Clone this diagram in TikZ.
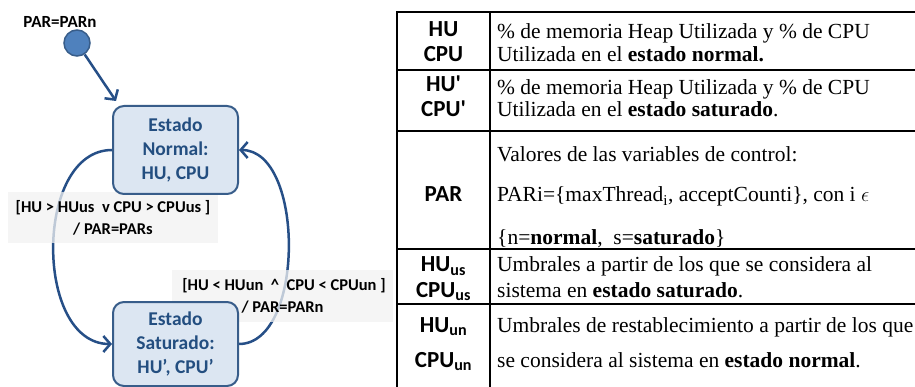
\documentclass[tikz,border=0pt]{standalone}
\usepackage{fontspec}
\setmainfont{Liberation Serif}
\newfontfamily\carlito{Carlito}
\usetikzlibrary{arrows.meta,calc}
\pgfdeclarelayer{arcs}
\pgfdeclarelayer{labels}
\pgfsetlayers{arcs,labels,main}
\definecolor{lineblue}{RGB}{38,79,135}
\definecolor{boxborder}{RGB}{56,93,138}
\definecolor{boxfill}{RGB}{220,230,242}
\definecolor{boxtext}{RGB}{35,78,128}
\definecolor{initfill}{RGB}{79,129,189}
\definecolor{labelgray}{RGB}{242,242,242}
\begin{document}
\begin{tikzpicture}[x=1pt,y=-1pt,
  statebox/.style={draw=boxborder, line width=2pt, fill=boxfill, rounded corners=11pt,
    minimum width=125pt, align=center, inner sep=0pt,
    font=\carlito\bfseries\fontsize{19.5}{24}\selectfont, text=boxtext},
  initdot/.style={circle, draw=boxborder, line width=1.5pt, fill=initfill, minimum size=26pt, inner sep=0pt},
  trans/.style={draw=lineblue, line width=2.5pt, -{Straight Barb[length=7pt,width=16pt,line width=2.5pt]}},
  guard/.style={fill=labelgray, fill opacity=0.75, text opacity=1, align=center, inner sep=0pt,
    font=\carlito\bfseries\fontsize{16.5}{22}\selectfont},
  symb/.style={font=\carlito\bfseries\fontsize{23}{26}\selectfont, anchor=base, inner sep=0pt},
  desc/.style={font=\fontsize{21.5}{25}\selectfont, anchor=base west, inner sep=0pt},
  rule/.style={line width=1.5pt, black}
]
\useasboundingbox (0,0) rectangle (915,387);

% left diagram
\node[font=\carlito\bfseries\fontsize{17}{20}\selectfont, inner sep=0pt] (parn) at (60,22) {PAR=PARn};
\node[initdot] (init) at (77,43) {};
\node[statebox, minimum height=88pt] (normal) at (175.5,150) {Estado\\Normal:\\HU, CPU};
\node[statebox, minimum height=84pt] (sat) at (175.5,344) {Estado\\Saturado:\\HU’, CPU’};

\draw[trans] (init) -- ($(normal.north west)+(4,-4)$);
\begin{pgfonlayer}{arcs}
\draw[trans] (normal.west) .. controls +(-78,0) and +(-78,0) .. (sat.west);
\draw[trans] (sat.east) .. controls +(66,0) and +(66,0) .. (normal.east);
\end{pgfonlayer}

\begin{pgfonlayer}{labels}
\node[guard, minimum width=210pt, minimum height=51pt] (g1) at (113,217.5)
  {[HU > HUus\ \ v CPU > CPUus ]\\/ PAR=PARs};
\node[guard, minimum width=221pt, minimum height=52pt] (g2) at (282.5,296)
  {\hspace*{3pt}[HU < HUun\ \ \textasciicircum\ \ CPU < CPUun ]\\/ PAR=PARn};
\end{pgfonlayer}

% table
\draw[rule] (397,12) -- (915,12);
\draw[rule] (397,70) -- (915,70);
\draw[rule] (397,131) -- (915,131);
\draw[rule] (397,249) -- (915,249);
\draw[rule] (397,304) -- (915,304);
\draw[rule] (397,11.25) -- (397,387);
\draw[rule] (490,11.25) -- (490,387);

\node[symb] (s1a) at (443.5,37) {HU};
\node[symb] (s1b) at (443.5,62) {CPU};
\node[symb] (s2a) at (443.5,92) {HU'};
\node[symb] (s2b) at (443.5,117) {CPU'};
\node[symb] (s3) at (443.5,202) {PAR};
\node[symb] (s4a) at (443.5,272) {HU\textsubscript{us}};
\node[symb] (s4b) at (443.5,297) {CPU\textsubscript{us}};
\node[symb] (s5a) at (443.5,332) {HU\textsubscript{un}};
\node[symb] (s5b) at (443.5,367) {CPU\textsubscript{un}};

\node[desc] (d1a) at (497,39) {\% de memoria Heap Utilizada y \% de CPU};
\node[desc] (d1b) at (497,62) {Utilizada en el \textbf{estado normal.}};
\node[desc] (d2a) at (497,95) {\% de memoria Heap Utilizada y \% de CPU};
\node[desc] (d2b) at (497,117) {Utilizada en el \textbf{estado saturado}.};
\node[desc] (d3a) at (497,162) {Valores de las variables de control:};
\node[desc] (d3b) at (497,202) {PARi=\{maxThread\textsubscript{i}, acceptCounti\}, con i $\epsilon$};
\node[desc] (d3c) at (497,244) {\{n=\textbf{normal},\ \ s=\textbf{saturado}\}};
\node[desc] (d4a) at (497,272) {Umbrales a partir de los que se considera al};
\node[desc] (d4b) at (497,297) {sistema en \textbf{estado saturado}.};
\node[desc] (d5a) at (497,332) {Umbrales de restablecimiento a partir de los que};
\node[desc] (d5b) at (497,367) {se considera al sistema en \textbf{estado normal}.};
\end{tikzpicture}
\end{document}
